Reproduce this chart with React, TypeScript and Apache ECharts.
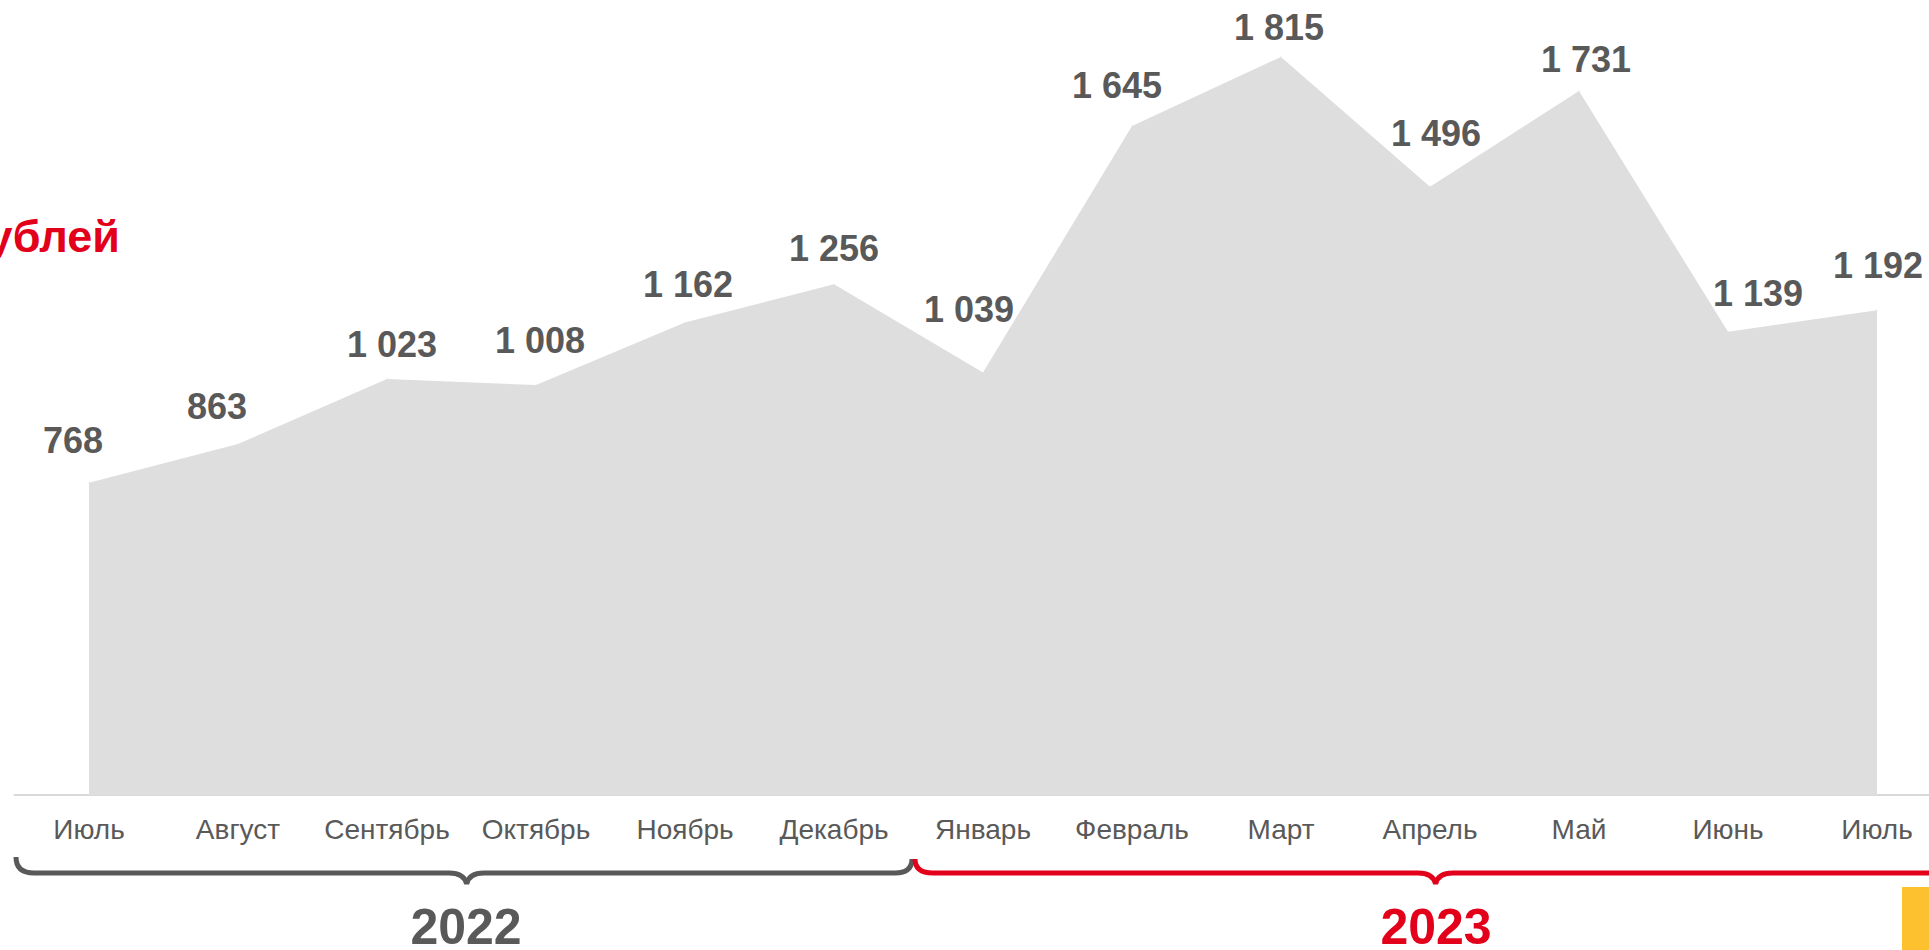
import React, { useEffect, useRef } from "react";
import * as echarts from "echarts";

const months = ["Июль", "Август", "Сентябрь", "Октябрь", "Ноябрь", "Декабрь", "Январь", "Февраль", "Март", "Апрель", "Май", "Июнь", "Июль"];
const values = [768, 863, 1023, 1008, 1162, 1256, 1039, 1645, 1815, 1496, 1731, 1139, 1192];
const years = ["2022", "2023"];
const unitText = "рублей";
// label offsets (px) relative to each point, as placed in the original slide
const labelOffsets = [
  [-16, -23.5], [-21, -19], [5, -15.7], [4, -25.7], [3, -19], [0, -17.3], [-14, -44.7],
  [-15, -21.8], [-2, -11.3], [6, -34.4], [7, -13], [30, -20], [1, -26.5],
];

const GRAY = "#595959";
const RED = "#E2001A";
const FONT = "'Liberation Sans', Arial, sans-serif";

const fmt = (v: number) => String(v).replace(/\B(?=(\d{3})+(?!\d))/g, " ");

let registered = false;
function registerShapes() {
  if (registered) return;
  registered = true;
  echarts.graphic.registerShape(
    "bracketGray",
    (echarts.graphic as any).extendPath(
      "M16 857 Q16 873 34 873 L449 873 Q464 873 466.7 884 Q469 873 484 873 L895 873 Q912 873 912 859",
      {}
    )
  );
  echarts.graphic.registerShape(
    "bracketRed",
    (echarts.graphic as any).extendPath(
      "M915 859 Q915 873 933 873 L1418 873 Q1433 873 1435.6 884 Q1438 873 1453 873 L1990 873",
      {}
    )
  );
}

export default function App() {
  const ref = useRef<HTMLDivElement>(null);
  useEffect(() => {
    if (!ref.current) return;
    registerShapes();
    const chart = echarts.init(ref.current, undefined, { renderer: "svg" });
    chart.setOption({
      animation: false,
      grid: { left: 14.5, right: 8.5, top: 2, bottom: 155, containLabel: false },
      xAxis: {
        type: "category",
        data: months,
        boundaryGap: true,
        axisLine: { show: true, lineStyle: { color: "#D9D9D9", width: 2 } },
        axisTick: { show: false },
        axisLabel: { color: GRAY, fontSize: 28, fontFamily: FONT, margin: 20, interval: 0 },
        splitLine: { show: false },
      },
      yAxis: { type: "value", min: 0, max: 1950, show: false, splitLine: { show: false } },
      series: [
        {
          type: "line",
          data: values,
          showSymbol: true,
          symbol: "circle",
          symbolSize: 1,
          itemStyle: { color: "#DEDEDE" },
          lineStyle: { width: 0, color: "#DEDEDE" },
          areaStyle: { color: "#DEDEDE", opacity: 1 },
          label: {
            show: true,
            position: "top",
            distance: 0,
            color: GRAY,
            fontSize: 36,
            fontWeight: "bold",
            fontFamily: FONT,
            formatter: (p: any) => fmt(p.value),
          },
          labelLayout: (p: any) => ({
            dx: labelOffsets[p.dataIndex][0],
            dy: labelOffsets[p.dataIndex][1],
            hideOverlap: false,
          }),
          emphasis: { disabled: true },
          z: 2,
        },
      ],
      graphic: [
        {
          type: "text",
          x: 120,
          y: 236,
          style: {
            text: unitText,
            textAlign: "right",
            textVerticalAlign: "middle",
            fill: RED,
            font: `bold 45px ${FONT}`,
          },
        },
        { type: "bracketGray", x: 0, y: 0, style: { fill: "none", stroke: GRAY, lineWidth: 5 } },
        { type: "bracketRed", x: 0, y: 0, style: { fill: "none", stroke: RED, lineWidth: 5 } },
        {
          type: "text",
          x: 466,
          y: 927,
          style: { text: years[0], textAlign: "center", textVerticalAlign: "middle", fill: GRAY, font: `bold 50px ${FONT}`, lineHeight: 38 },
        },
        {
          type: "text",
          x: 1436,
          y: 927,
          style: { text: years[1], textAlign: "center", textVerticalAlign: "middle", fill: RED, font: `bold 50px ${FONT}`, lineHeight: 38 },
        },
        {
          type: "rect",
          shape: { x: 1902, y: 887, width: 60, height: 80 },
          style: { fill: "#FDC02F" },
        },
      ],
    });
    return () => chart.dispose();
  }, []);
  return (
    <div
      ref={ref}
      style={{ position: "fixed", left: 0, top: 0, width: 1960, height: 950, background: "#fff" }}
    />
  );
}
